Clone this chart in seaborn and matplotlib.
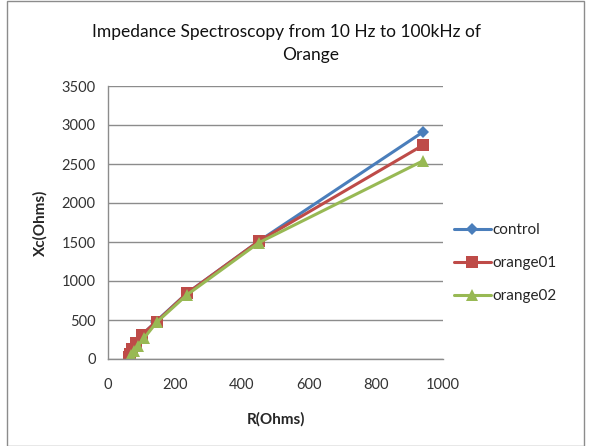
import matplotlib
matplotlib.use("Agg")
import matplotlib.pyplot as plt
import seaborn as sns
import pandas as pd
from matplotlib.patches import Rectangle

# Data
series_names = ["control", "orange01", "orange02"]
r_control = [940, 450, 235, 143, 100, 82, 72, 66, 62]
x_control = [2910, 1510, 840, 480, 300, 190, 110, 55, 20]
r_orange01 = [940, 450, 235, 145, 100, 83, 73, 67, 63]
x_orange01 = [2740, 1510, 840, 480, 310, 210, 130, 70, 25]
r_orange02 = [940, 450, 235, 145, 108, 90, 78, 70, 66]
x_orange02 = [2540, 1490, 820, 470, 270, 170, 100, 45, 10]
x_ticks = [0, 200, 400, 600, 800, 1000]
y_ticks = [0, 500, 1000, 1500, 2000, 2500, 3000, 3500]

frames = []
for name, r, x in [("control", r_control, x_control),
                   ("orange01", r_orange01, x_orange01),
                   ("orange02", r_orange02, x_orange02)]:
    frames.append(pd.DataFrame({"R": r, "Xc": x, "series": name, "idx": range(len(r))}))
df = pd.concat(frames, ignore_index=True)

sns.set_theme(style="white")
plt.rcParams["font.family"] = ["Lato", "DejaVu Sans"]

fig = plt.figure(figsize=(5.9, 4.46), dpi=100)
ax = fig.add_axes([108/590, 1-359/446, (443-108)/590, (359-86)/446])

colors = {"control": "#4A7EBB", "orange01": "#BE4B48", "orange02": "#98B954"}
markers = {"control": "D", "orange01": "s", "orange02": "^"}
msizes = {"control": 6, "orange01": 9, "orange02": 9}

for name in series_names:
    sub = df[df["series"] == name]
    sns.lineplot(data=sub, x="R", y="Xc", sort=False, ax=ax, color=colors[name],
                 linewidth=2.2, marker=markers[name], markersize=msizes[name],
                 markeredgewidth=0, label=name, legend=False)

ax.set_xlim(0, 1000)
ax.set_ylim(0, 3500)
ax.set_xticks(x_ticks)
ax.set_yticks(y_ticks)
ax.set_xticklabels([str(t) for t in x_ticks], fontsize=10.5, color="#333")
ax.set_yticklabels([str(t) for t in y_ticks], fontsize=10.5, color="#333")
ax.tick_params(axis="x", length=0, pad=14)
ax.tick_params(axis="y", length=0, pad=9)
ax.yaxis.grid(True, color="#8c8c8c", linewidth=1)
ax.xaxis.grid(False)
for s in ["top", "right"]:
    ax.spines[s].set_visible(False)
for s in ["left", "bottom"]:
    ax.spines[s].set_color("#8c8c8c")
    ax.spines[s].set_linewidth(1)
ax.set_xlabel("R(Ohms)", fontsize=11, fontweight="bold", labelpad=14)
ax.set_ylabel("Xc(Ohms)", fontsize=11, fontweight="bold", labelpad=10)

fig.text(287/590, 1-32/446, "Impedance Spectroscopy from 10 Hz to 100kHz of",
         ha="center", va="center", fontsize=12.5, color="#111")
fig.text(311/590, 1-55/446, "Orange", ha="center", va="center", fontsize=12.5, color="#111")

handles, labels = ax.get_legend_handles_labels()
leg = fig.legend(handles, labels, loc="upper left", bbox_to_anchor=(448/590, 1-217/446),
                 frameon=False, fontsize=11, handlelength=2.4, handletextpad=0.1,
                 labelspacing=1.25, borderaxespad=0)

fig.patches.append(Rectangle((7/590, 0), (584-7)/590, 1-1/446, transform=fig.transFigure,
                             fill=False, edgecolor="#8c8c8c", linewidth=1))

fig.savefig("out.png", dpi=100, facecolor="white")
